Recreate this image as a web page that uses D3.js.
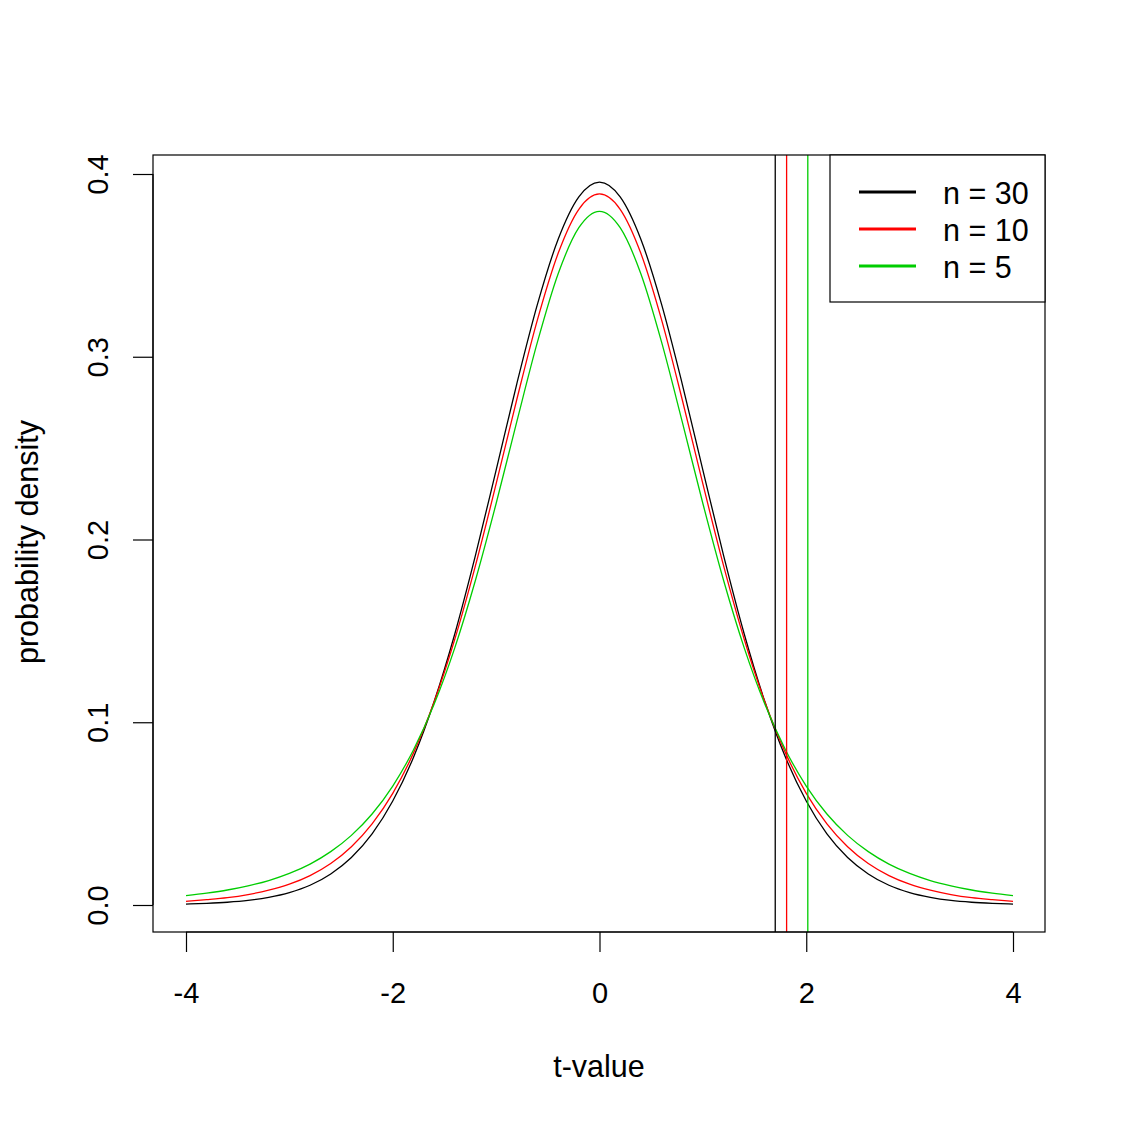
<!DOCTYPE html>
<html>
<head>
<meta charset="utf-8">
<script src="https://cdn.jsdelivr.net/npm/d3@7"></script>
<style>
  body { margin: 0; background: #fff; }
  text { font-family: "Liberation Sans", Arial, sans-serif; }
</style>
</head>
<body>
<div id="chart"></div>
<script>
// t-values where the curves were sampled
var tValues = [-4, -3.8, -3.6, -3.4, -3.2, -3, -2.8, -2.6, -2.4, -2.2, -2, -1.8, -1.6, -1.4, -1.2, -1, -0.8, -0.6, -0.4, -0.2,
  0, 0.2, 0.4, 0.6, 0.8, 1, 1.2, 1.4, 1.6, 1.8, 2, 2.2, 2.4, 2.6, 2.8, 3, 3.2, 3.4, 3.6, 3.8, 4]

// density
var dens30 = [0.0005, 0.0009, 0.0015, 0.0025, 0.0042, 0.0068, 0.0108, 0.0170, 0.0260, 0.0389, 0.0569, 0.0807, 0.1112, 0.1483, 0.1913, 0.2380, 0.2852, 0.3288, 0.3643, 0.3875,
  0.3956, 0.3875, 0.3643, 0.3288, 0.2852, 0.2380, 0.1913, 0.1483, 0.1112, 0.0807, 0.0569, 0.0389, 0.0260, 0.0170, 0.0108, 0.0068, 0.0042, 0.0025, 0.0015, 0.0009, 0.0005]
var dens10 = [0.0020, 0.0029, 0.0040, 0.0057, 0.0081, 0.0114, 0.0161, 0.0227, 0.0319, 0.0444, 0.0611, 0.0831, 0.1111, 0.1454, 0.1857, 0.2304, 0.2766, 0.3203, 0.3566, 0.3807,
  0.3891, 0.3807, 0.3566, 0.3203, 0.2766, 0.2304, 0.1857, 0.1454, 0.1111, 0.0831, 0.0611, 0.0444, 0.0319, 0.0227, 0.0161, 0.0114, 0.0081, 0.0057, 0.0040, 0.0029, 0.0020]
var dens5 = [0.0051, 0.0065, 0.0082, 0.0105, 0.0134, 0.0173, 0.0224, 0.0292, 0.0381, 0.0498, 0.0651, 0.0848, 0.1098, 0.1407, 0.1777, 0.2197, 0.2645, 0.3081, 0.3454, 0.3706,
  0.3796, 0.3706, 0.3454, 0.3081, 0.2645, 0.2197, 0.1777, 0.1407, 0.1098, 0.0848, 0.0651, 0.0498, 0.0381, 0.0292, 0.0224, 0.0173, 0.0134, 0.0105, 0.0082, 0.0065, 0.0051]

// critical values (vertical lines)
var critical = [1.70, 1.81, 2.015]

var seriesNames = ["n = 30", "n = 10", "n = 5"]
var seriesColors = ["#000000", "#ff0000", "#00cd00"]
var xTicks = [-4, -2, 0, 2, 4]
var yTicks = [0.0, 0.1, 0.2, 0.3, 0.4]

var width = 1125, height = 1125
var box = {left: 153, right: 1045, top: 155, bottom: 932}

var x = d3.scaleLinear().domain([-4, 4]).range([186, 1013])
var y = d3.scaleLinear().domain([0, 0.4]).range([905, 174])

var svg = d3.select("#chart")
  .append("svg")
    .attr("width", width)
    .attr("height", height)

svg.append("rect")
  .attr("width", width).attr("height", height).attr("fill", "#fff")

svg.append("defs").append("clipPath").attr("id", "clip")
  .append("rect")
    .attr("x", box.left).attr("y", box.top)
    .attr("width", box.right - box.left).attr("height", box.bottom - box.top)

var plot = svg.append("g").attr("clip-path", "url(#clip)")

var line = d3.line()
  .x((d, i) => x(tValues[i]))
  .y(d => y(d))
  .curve(d3.curveMonotoneX)

var allDens = [dens30, dens10, dens5]
allDens.forEach((s, i) => {
  plot.append("path")
    .datum(s)
    .attr("fill", "none")
    .attr("stroke", seriesColors[i])
    .attr("stroke-width", 1.3)
    .attr("d", line)
})

critical.forEach((c, i) => {
  plot.append("line")
    .attr("x1", x(c)).attr("x2", x(c))
    .attr("y1", box.top).attr("y2", box.bottom)
    .attr("stroke", seriesColors[i])
    .attr("stroke-width", 1.3)
})

// axes
var xAxis = svg.append("g")
  .attr("transform", "translate(0," + box.bottom + ")")
  .call(d3.axisBottom(x).tickValues(xTicks).tickSize(20).tickPadding(30).tickFormat(d3.format("d")))
xAxis.select(".domain").attr("d", "M" + x(-4) + ",0H" + x(4)).attr("stroke-width", 1.2)
xAxis.selectAll(".tick line").attr("stroke-width", 1.2)
xAxis.selectAll("text").attr("font-size", 29).attr("fill", "#000").text(d => d < 0 ? "-" + Math.abs(d) : d)

var yAxis = svg.append("g")
  .attr("transform", "translate(" + box.left + ",0)")
  .call(d3.axisLeft(y).tickValues(yTicks).tickSize(20).tickFormat(d3.format(".1f")))
yAxis.select(".domain").attr("d", "M0," + y(0) + "V" + y(0.4)).attr("stroke-width", 1.2)
yAxis.selectAll(".tick line").attr("stroke-width", 1.2)
yAxis.selectAll(".tick text")
  .attr("font-size", 29).attr("fill", "#000")
  .attr("x", null).attr("dy", null)
  .attr("text-anchor", "middle")
  .attr("transform", "translate(-55,0) rotate(-90)")
  .attr("dominant-baseline", "central")

// box
svg.append("rect")
  .attr("x", box.left).attr("y", box.top)
  .attr("width", box.right - box.left).attr("height", box.bottom - box.top)
  .attr("fill", "none").attr("stroke", "#000").attr("stroke-width", 1.2)

// titles
svg.append("text")
  .attr("x", 599).attr("y", 1077)
  .attr("text-anchor", "middle").attr("font-size", 30.5)
  .text("t-value")

svg.append("text")
  .attr("transform", "translate(38,542) rotate(-90)")
  .attr("text-anchor", "middle").attr("font-size", 30.5)
  .text("probability density")

// legend
var legend = svg.append("g")
legend.append("rect")
  .attr("x", 830).attr("y", box.top)
  .attr("width", box.right - 830).attr("height", 302 - box.top)
  .attr("fill", "#fff").attr("stroke", "#000").attr("stroke-width", 1.2)

seriesNames.forEach((name, i) => {
  var ly = 192 + i * 37
  legend.append("line")
    .attr("x1", 859).attr("x2", 916)
    .attr("y1", ly).attr("y2", ly)
    .attr("stroke", seriesColors[i]).attr("stroke-width", 3)
  legend.append("text")
    .attr("x", 943).attr("y", ly + 1)
    .attr("dominant-baseline", "central")
    .attr("font-size", 30.5)
    .text(name)
})
</script>
</body>
</html>
